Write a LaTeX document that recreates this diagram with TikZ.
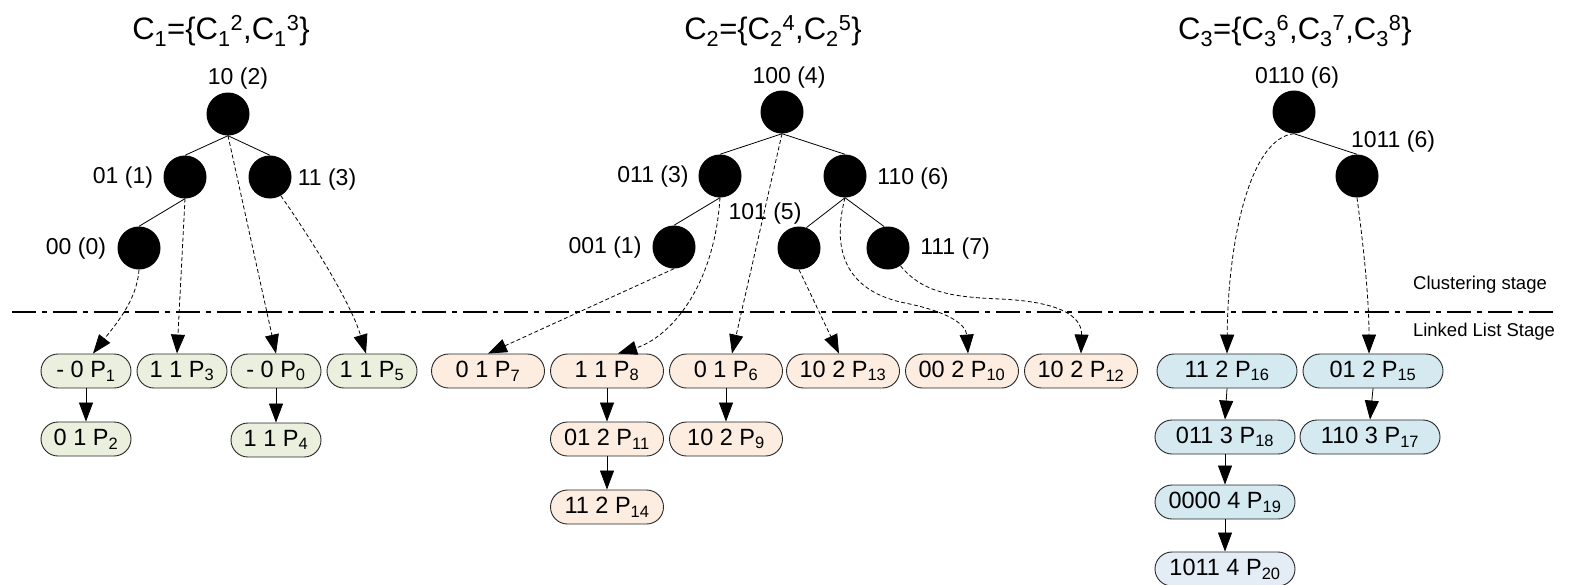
\documentclass[tikz,border=0pt]{standalone}
\usepackage{fontspec}
\setmainfont{Liberation Sans}
\usetikzlibrary{arrows.meta,shapes.misc}

\definecolor{grnfill}{RGB}{235,239,222}
\definecolor{orgfill}{RGB}{253,236,224}
\definecolor{blufill}{RGB}{212,234,240}
\definecolor{lavfill}{RGB}{228,236,246}

\newcommand\Psub[1]{P\textsubscript{#1}}
\newcommand\Csub[2]{C\textsubscript{#1}\textsuperscript{#2}}

\tikzset{
  vert/.style={circle,fill=black,minimum size=43pt,inner sep=0pt},
  vlabel/.style={font=\fontsize{23}{26}\selectfont,inner sep=0pt},
  title/.style={font=\fontsize{31}{34}\selectfont,inner sep=0pt},
  stage/.style={font=\fontsize{18.5}{21}\selectfont,inner sep=0pt},
  lbox/.style={rounded rectangle,draw=black!85,line width=0.9pt,minimum height=34pt,
               inner sep=0pt,font=\fontsize{23.5}{26}\selectfont},
  gbox/.style={lbox,fill=grnfill,minimum width=90pt},
  obox/.style={lbox,fill=orgfill,minimum width=113pt},
  bbox/.style={lbox,fill=blufill,minimum width=140pt},
  tedge/.style={line width=0.8pt},
  link/.style={-{Triangle[length=19pt,width=14pt]},line width=0.8pt},
  ptr/.style={link,dash pattern=on 4pt off 2.5pt},
  divider/.style={line width=1.3pt,dash pattern=on 24pt off 6pt on 5pt off 6pt}
}

\begin{document}
\begin{tikzpicture}[x=1pt,y=-1pt]
\useasboundingbox (0,0) rectangle (1570,584);

% ---------- titles ----------
\node[title] (ti1) at (221,31) {C\textsubscript{1}=\{\Csub{1}{2},\Csub{1}{3}\}};
\node[title] (ti2) at (773,31) {C\textsubscript{2}=\{\Csub{2}{4},\Csub{2}{5}\}};
\node[title] (ti3) at (1295,31) {C\textsubscript{3}=\{\Csub{3}{6},\Csub{3}{7},\Csub{3}{8}\}};

% ---------- stage separator ----------
\coordinate (sepL) at (12,312);
\coordinate (sepR) at (1555,312);
\draw[divider] (sepL) -- (sepR);
\node[stage] (cls) at (1480,285) {Clustering stage};
\node[stage] (lls) at (1484,332) {Linked List Stage};

% ---------- cluster 1 tree ----------
\node[vert] (a10) at (228,114) {};
\node[vert] (a01) at (185,177) {};
\node[vert] (a11) at (270,177) {};
\node[vert] (a00) at (139,248) {};
\node[vlabel] (la10) at (238,79) {10 (2)};
\node[vlabel] (la01) at (123,178) {01 (1)};
\node[vlabel] (la11) at (327,180) {11 (3)};
\node[vlabel] (la00) at (76,249) {00 (0)};
\draw[tedge] (a10.south) -- (a01.north);
\draw[tedge] (a10.south) -- (a11.north);
\draw[tedge] (a01.south) -- (a00.north);

% ---------- cluster 2 tree ----------
\node[vert] (b100) at (782,112) {};
\node[vert] (b011) at (720,176) {};
\node[vert] (b110) at (845,176) {};
\node[vert] (b001) at (674,247) {};
\node[vert] (b101) at (799,248) {};
\node[vert] (b111) at (888,248) {};
\node[vlabel] (lb100) at (789,78) {100 (4)};
\node[vlabel] (lb011) at (653,177) {011 (3)};
\node[vlabel] (lb110) at (913,179) {110 (6)};
\node[vlabel] (lb001) at (605,248) {001 (1)};
\node[vlabel] (lb101) at (765,214) {101 (5)};
\node[vlabel] (lb111) at (955,249) {111 (7)};
\draw[tedge] (b100.south) -- (b011.north);
\draw[tedge] (b100.south) -- (b110.north);
\draw[tedge] (b011.south) -- (b001.north);
\draw[tedge] (b110.south) -- (b101.70);
\draw[tedge] (b110.south) -- (b111.100);

% ---------- cluster 3 tree ----------
\node[vert] (c0110) at (1294,112) {};
\node[vert] (c1011) at (1357,176) {};
\node[vlabel] (lc0110) at (1297,78) {0110 (6)};
\node[vlabel] (lc1011) at (1393,142) {1011 (6)};
\draw[tedge] (c0110.south) -- (c1011.north);

% ---------- linked lists, cluster 1 ----------
\node[gbox] (p1) at (86,371) {- 0 \Psub{1}};
\node[gbox] (p3) at (182,371) {1 1 \Psub{3}};
\node[gbox] (p0) at (276,371) {- 0 \Psub{0}};
\node[gbox] (p5) at (372,371) {1 1 \Psub{5}};
\node[gbox] (p2) at (86,439) {0 1 \Psub{2}};
\node[gbox] (p4) at (276,440) {1 1 \Psub{4}};
\draw[link] (p1.south) -- (p2.north);
\draw[link] (p0.south) -- (p4.north);

% ---------- linked lists, cluster 2 ----------
\node[obox] (p7)  at (488,371) {0 1 \Psub{7}};
\node[obox] (p8)  at (607,371) {1 1 \Psub{8}};
\node[obox] (p6)  at (726,371) {0 1 \Psub{6}};
\node[obox] (p13) at (843,371) {10 2 \Psub{13}};
\node[obox] (p10) at (962,371) {00 2 \Psub{10}};
\node[obox] (p12) at (1081,371) {10 2 \Psub{12}};
\node[obox] (p11) at (607,439) {01 2 \Psub{11}};
\node[obox] (p9)  at (726,439) {10 2 \Psub{9}};
\node[obox] (p14) at (607,507) {11 2 \Psub{14}};
\draw[link] (p8.south) -- (p11.north);
\draw[link] (p11.south) -- (p14.north);
\draw[link] (p6.south) -- (p9.north);

% ---------- linked lists, cluster 3 ----------
\node[bbox] (p16) at (1227,371) {11 2 \Psub{16}};
\node[bbox] (p15) at (1373,371) {01 2 \Psub{15}};
\node[bbox] (p18) at (1225,437) {011 3 \Psub{18}};
\node[bbox] (p17) at (1370,437) {110 3 \Psub{17}};
\node[bbox] (p19) at (1225,502) {0000 4 \Psub{19}};
\node[bbox,fill=lavfill] (p20) at (1225,569) {1011 4 \Psub{20}};
\draw[link] (p16.south) -- (p18.north);
\draw[link] (p18.south) -- (p19.north);
\draw[link] (p19.south) -- (p20.north);
\draw[link] (p15.south) -- (p17.north);

% ---------- pointers from tree vertices to list heads ----------
\draw[ptr] (a00.south) .. controls (137,300) and (116,324) .. ([xshift=7pt]p1.north);
\draw[ptr] (a01.south) -- ([xshift=-5pt]p3.north);
\draw[ptr] (a10.south) -- (p0.north);
\draw[ptr] (a11.-60) .. controls (305,230) and (350,300) .. ([xshift=-6pt]p5.north);

\draw[ptr] (b001.south) -- (p7.north);
\draw[ptr] (b011.south) .. controls (714,290) and (668,338) .. ([xshift=11pt]p8.north);
\draw[ptr] (b100.south) -- ([xshift=6pt]p6.north);
\draw[ptr] (b101.south) -- ([xshift=-4pt]p13.north);
\draw[ptr] (b110.south) .. controls (830,255) and (850,292) .. (905,303)
                        .. controls (950,312) and (966,325) .. ([xshift=6pt]p10.north);
\draw[ptr] (b111.-55) .. controls (922,292) and (950,297) .. (1000,299)
                      .. controls (1068,302) and (1082,320) .. (p12.north);

\draw[ptr] (c0110.south) .. controls (1250,138) and (1228,240) .. (p16.north);
\draw[ptr] (c1011.south) .. controls (1364,250) and (1369,300) .. ([xshift=-4pt]p15.north);
\end{tikzpicture}
\end{document}
